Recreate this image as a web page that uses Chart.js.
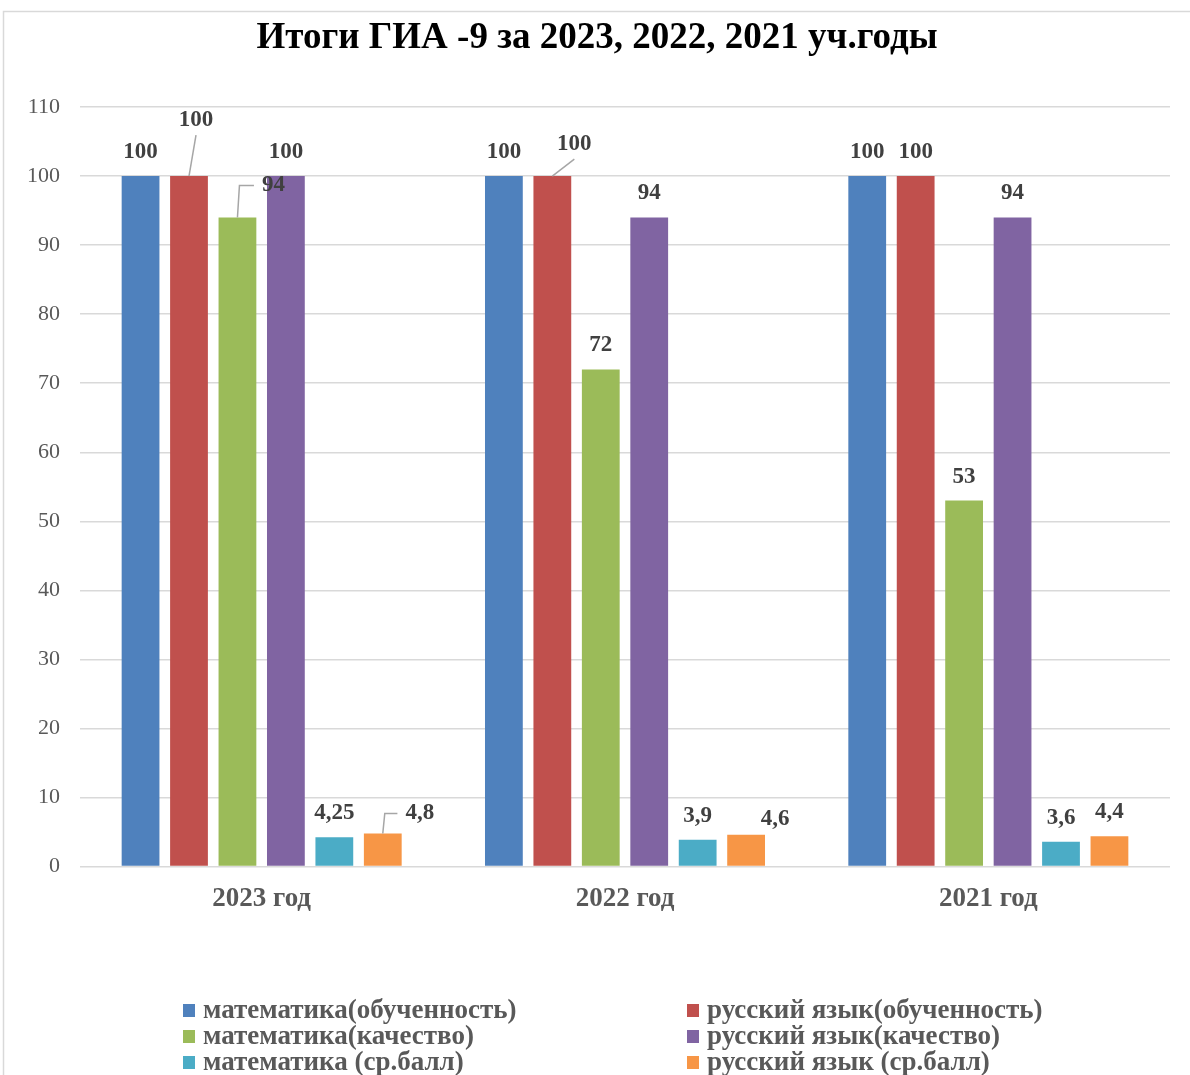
<!DOCTYPE html>
<html>
<head>
<meta charset="utf-8">
<script src="https://cdn.jsdelivr.net/npm/chart.js@4"></script>
<style>
  body { margin: 0; background: #fff; }
  #wrap { position: relative; width: 1190px; height: 1075px; }
</style>
</head>
<body>
<div id="wrap"><canvas id="giaChart"></canvas></div>
<script>
const title = "Итоги ГИА -9 за 2023, 2022, 2021 уч.годы";
const categories = ["2023 год", "2022 год", "2021 год"];
const seriesNames = [
    "математика(обученность)",
    "русский язык(обученность)",
    "математика(качество)",
    "русский язык(качество)",
    "математика (ср.балл)",
    "русский язык (ср.балл)"
];
const mathLearn = [100, 100, 100];
const rusLearn = [100, 100, 100];
const mathQuality = [94, 72, 53];
const rusQuality = [100, 94, 94];
const mathAvg = [4.25, 3.9, 3.6];
const rusAvg = [4.8, 4.6, 4.4];
const yTicks = [0, 10, 20, 30, 40, 50, 60, 70, 80, 90, 100, 110];

const colors = ["#4F81BD", "#C0504D", "#9BBB59", "#8064A2", "#4BACC6", "#F79646"];
const serif = '"Liberation Serif", "Times New Roman", serif';

// moved labels (dataset-category), some with leader lines
const labelShift = {
    "1-0": { dx: 7, dy: -32, leader: "line" },
    "1-1": { dx: 22, dy: -8, leader: "line" },
    "2-0": { dx: 36, dy: -8, leader: "elbow" },
    "5-0": { dx: 37, dy: 4, leader: "elbow" },
    "5-1": { dx: 29, dy: 8 }
};

// frame + title (title centred on the frame, not on the plot)
const frame = {
    id: "frame",
    beforeDraw(chart) {
        const ctx = chart.ctx;
        ctx.save();
        ctx.strokeStyle = "#d9d9d9";
        ctx.lineWidth = 1.5;
        ctx.strokeRect(3.5, 11.5, 1300, 1200);
        ctx.font = "bold 37px " + serif;
        ctx.fillStyle = "#000";
        ctx.textAlign = "center";
        ctx.textBaseline = "middle";
        ctx.fillText(title, 597, 38);
        ctx.restore();
    }
};

const valueLabels = {
    id: "valueLabels",
    afterDatasetsDraw(chart) {
        const ctx = chart.ctx;
        ctx.save();
        ctx.font = "bold 23px " + serif;
        ctx.textAlign = "center";
        ctx.textBaseline = "middle";
        chart.data.datasets.forEach((ds, di) => {
            chart.getDatasetMeta(di).data.forEach((bar, i) => {
                const text = String(ds.data[i]).replace(".", ",");
                let x = bar.x, y = bar.y - 24;
                const s = labelShift[di + "-" + i];
                if (s) {
                    x += s.dx; y += s.dy;
                    ctx.strokeStyle = "#a6a6a6";
                    ctx.lineWidth = 1.5;
                    ctx.beginPath();
                    if (s.leader === "line") {
                        ctx.moveTo(x, y + 15);
                        ctx.lineTo(bar.x, bar.y);
                    } else if (s.leader === "elbow") {
                        const w = ctx.measureText(text).width;
                        ctx.moveTo(bar.x, bar.y);
                        ctx.lineTo(bar.x + 2, y);
                        ctx.lineTo(x - w / 2 - 8, y);
                    }
                    ctx.stroke();
                }
                ctx.fillStyle = "#404040";
                ctx.fillText(text, x, y);
            });
        });
        ctx.restore();
    }
};

const gridLegend = {
    id: "gridLegend",
    afterDraw(chart) {
        const ctx = chart.ctx;
        const colX = [183, 687];
        const rowY = [1011, 1037, 1063];
        ctx.save();
        ctx.font = "bold 27px " + serif;
        ctx.textBaseline = "middle";
        ctx.textAlign = "left";
        chart.data.datasets.forEach((ds, di) => {
            const cx = colX[di % 2], cy = rowY[Math.floor(di / 2)];
            ctx.fillStyle = ds.backgroundColor;
            ctx.fillRect(cx, cy - 7, 12, 13);
            ctx.fillStyle = "#595959";
            ctx.fillText(ds.label, cx + 20, cy);
        });
        ctx.restore();
    }
};

const seriesData = [mathLearn, rusLearn, mathQuality, rusQuality, mathAvg, rusAvg];

new Chart(document.getElementById("giaChart"), {
    type: "bar",
    data: {
        labels: categories,
        datasets: seriesData.map((d, k) => ({
            label: seriesNames[k],
            data: d,
            backgroundColor: colors[k],
            categoryPercentage: 0.8,
            barPercentage: 0.78
        }))
    },
    options: {
        responsive: true,
        maintainAspectRatio: false,
        animation: false,
        layout: { padding: { left: 7, right: 20, top: 107, bottom: 152 } },
        plugins: {
            legend: { display: false },
            tooltip: { enabled: false },
            title: { display: false }
        },
        scales: {
            x: {
                grid: { display: false },
                border: { display: false },
                ticks: {
                    color: "#595959",
                    font: { family: serif, size: 27, weight: "bold" },
                    padding: 8
                }
            },
            y: {
                min: 0,
                max: 110,
                afterBuildTicks(axis) { axis.ticks = yTicks.map(v => ({ value: v })); },
                grid: { color: "#d9d9d9", lineWidth: 1.5, drawTicks: false },
                border: { display: false },
                ticks: {
                    color: "#595959",
                    font: { family: serif, size: 22 },
                    padding: 20
                }
            }
        }
    },
    plugins: [frame, valueLabels, gridLegend]
});
</script>
</body>
</html>
